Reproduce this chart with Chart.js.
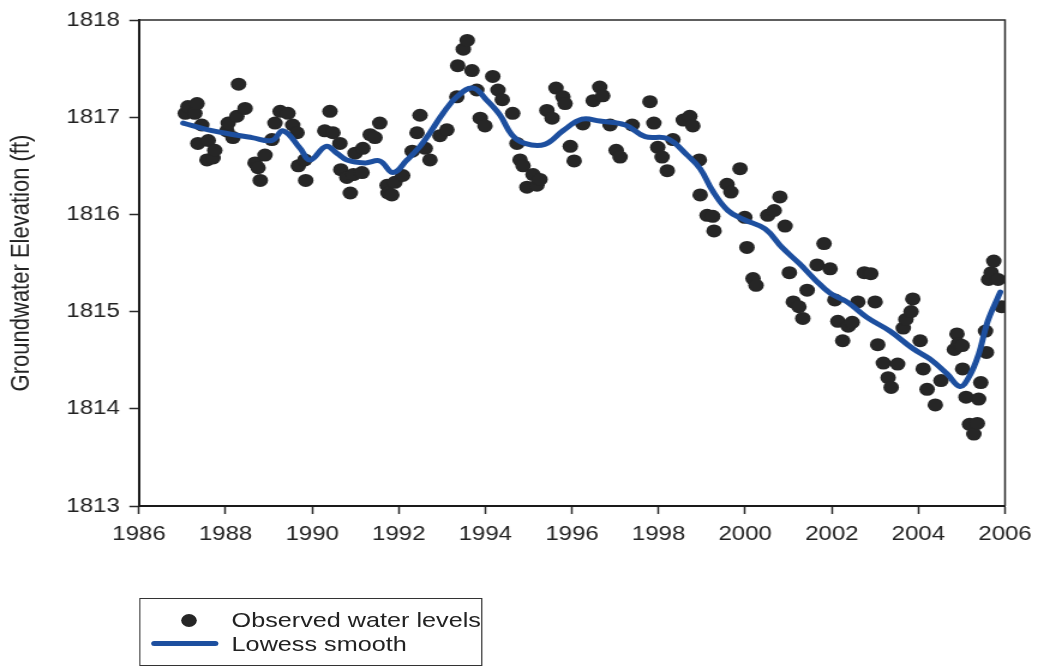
<!DOCTYPE html>
<html>
<head>
<meta charset="utf-8">
<script src="https://cdn.jsdelivr.net/npm/chart.js@4.4.0/dist/chart.umd.min.js"></script>
<style>
  html, body { margin: 0; padding: 0; background: #fff; overflow: hidden; }
  /* the figure is drawn on an 885px-wide stage and widened to 1062px */
  #stage { position: absolute; left: 0; top: 0; width: 885px; height: 667px;
           transform: scaleX(1.2); transform-origin: 0 0; }
  #chart { position: absolute; left: 0; top: 0; }
  #legend { position: absolute; left: 116px; top: 598px; width: 286px; height: 68px;
            border: 1.5px solid #333; box-sizing: border-box;
            font-family: "Liberation Sans", Arial, sans-serif; font-size: 21px; color: #222; }
  .row { position: absolute; left: 76px; line-height: 24px; white-space: nowrap; }
  .dot { position: absolute; left: 34px; top: 15px; width: 13px; height: 13px;
         border-radius: 50%; background: #262626; }
  .bar { position: absolute; left: 9px; top: 42px; width: 56px; height: 5px;
         border-radius: 3px; background: #1d4f9f; }
</style>
</head>
<body>
<div id="stage">
  <canvas id="chart" width="885" height="667"></canvas>
  <div id="legend">
    <div class="dot"></div>
    <div class="row" style="top:9px">Observed water levels</div>
    <div class="bar"></div>
    <div class="row" style="top:33px">Lowess smooth</div>
  </div>
</div>
<script>
// Observed groundwater levels (decimal year, elevation in ft)
const obsYears = [
  1987.07, 1987.13, 1987.29, 1987.34, 1987.36, 1987.45, 1987.57, 1987.60, 1987.71, 1987.75,
  1988.03, 1988.06, 1988.17, 1988.26, 1988.30, 1988.45, 1988.68, 1988.75, 1988.80, 1988.91,
  1989.07, 1989.14, 1989.26, 1989.44, 1989.55, 1989.65, 1989.68, 1989.83, 1989.85, 1990.29,
  1990.41, 1990.48, 1990.64, 1990.66, 1990.80, 1990.88, 1990.95, 1990.99, 1991.15, 1991.17,
  1991.34, 1991.45, 1991.56, 1991.73, 1991.75, 1991.84, 1991.91, 1992.09, 1992.31, 1992.42,
  1992.49, 1992.61, 1992.72, 1992.95, 1993.11, 1993.34, 1993.36, 1993.49, 1993.58, 1993.69,
  1993.80, 1993.88, 1993.99, 1994.17, 1994.29, 1994.39, 1994.63, 1994.73, 1994.80, 1994.87,
  1994.96, 1995.10, 1995.19, 1995.26, 1995.42, 1995.54, 1995.63, 1995.79, 1995.84, 1995.96,
  1996.05, 1996.25, 1996.49, 1996.64, 1996.71, 1996.88, 1997.02, 1997.11, 1997.39, 1997.80,
  1997.89, 1997.98, 1998.08, 1998.20, 1998.33, 1998.57, 1998.72, 1998.79, 1998.94, 1998.96,
  1999.12, 1999.25, 1999.28, 1999.58, 1999.67, 1999.88, 1999.99, 2000.04, 2000.18, 2000.25,
  2000.52, 2000.67, 2000.80, 2000.92, 2001.02, 2001.11, 2001.24, 2001.33, 2001.43, 2001.66,
  2001.82, 2001.96, 2002.07, 2002.14, 2002.25, 2002.38, 2002.47, 2002.60, 2002.75, 2002.90,
  2003.00, 2003.06, 2003.19, 2003.30, 2003.37, 2003.52, 2003.65, 2003.71, 2003.83, 2003.87,
  2004.04, 2004.11, 2004.20, 2004.39, 2004.52, 2004.83, 2004.89, 2004.92, 2005.01, 2005.02,
  2005.10, 2005.18, 2005.28, 2005.36, 2005.39, 2005.44, 2005.55, 2005.57, 2005.62, 2005.68,
  2005.74, 2005.84, 2005.92
];
const obsLevels = [
  1817.04, 1817.11, 1817.04, 1817.14, 1816.73, 1816.92, 1816.56, 1816.76, 1816.58, 1816.66,
  1816.86, 1816.94, 1816.79, 1817.01, 1817.34, 1817.09, 1816.53, 1816.48, 1816.35, 1816.61,
  1816.77, 1816.94, 1817.06, 1817.04, 1816.92, 1816.84, 1816.50, 1816.56, 1816.35, 1816.86,
  1817.06, 1816.84, 1816.73, 1816.46, 1816.38, 1816.22, 1816.41, 1816.63, 1816.43, 1816.68,
  1816.82, 1816.79, 1816.94, 1816.30, 1816.22, 1816.20, 1816.33, 1816.40, 1816.65, 1816.84,
  1817.02, 1816.68, 1816.56, 1816.81, 1816.87, 1817.21, 1817.53, 1817.70, 1817.79, 1817.48,
  1817.28, 1816.99, 1816.91, 1817.42, 1817.28, 1817.18, 1817.04, 1816.73, 1816.56, 1816.50,
  1816.28, 1816.41, 1816.30, 1816.36, 1817.07, 1816.99, 1817.30, 1817.21, 1817.14, 1816.70,
  1816.55, 1816.93, 1817.17, 1817.31, 1817.22, 1816.92, 1816.66, 1816.59, 1816.92, 1817.16,
  1816.94, 1816.69, 1816.59, 1816.45, 1816.77, 1816.97, 1817.01, 1816.91, 1816.56, 1816.20,
  1815.99, 1815.98, 1815.83, 1816.31, 1816.23, 1816.47, 1815.97, 1815.66, 1815.34, 1815.27,
  1815.99, 1816.04, 1816.18, 1815.88, 1815.40, 1815.10, 1815.05, 1814.93, 1815.22, 1815.48,
  1815.70, 1815.44, 1815.12, 1814.90, 1814.70, 1814.85, 1814.89, 1815.10, 1815.40, 1815.39,
  1815.10, 1814.66, 1814.47, 1814.32, 1814.22, 1814.46, 1814.83, 1814.92, 1815.00, 1815.13,
  1814.70, 1814.41, 1814.20, 1814.04, 1814.29, 1814.61, 1814.77, 1814.67, 1814.65, 1814.41,
  1814.12, 1813.84, 1813.74, 1813.85, 1814.10, 1814.27, 1814.80, 1814.58, 1815.33, 1815.40,
  1815.52, 1815.33, 1815.05
];

// Lowess smooth through the observations
const smoothYears = [
  1987.02, 1987.60, 1988.19, 1988.61, 1989.07, 1989.33, 1989.72, 1989.95, 1990.32, 1990.57,
  1990.80, 1991.22, 1991.56, 1991.87, 1992.19, 1992.49, 1992.72, 1993.02, 1993.34, 1993.71,
  1994.04, 1994.34, 1994.61, 1994.91, 1995.37, 1995.79, 1996.23, 1996.64, 1997.23, 1997.69,
  1998.20, 1998.66, 1998.96, 1999.25, 1999.60, 1999.95, 2000.46, 2000.85, 2001.26, 2001.61,
  2001.96, 2002.35, 2002.81, 2003.34, 2003.87, 2004.27, 2004.66, 2004.96, 2005.17, 2005.39,
  2005.60, 2005.89
];
const smoothLevels = [
  1816.94, 1816.87, 1816.82, 1816.79, 1816.76, 1816.86, 1816.68, 1816.56, 1816.70, 1816.63,
  1816.56, 1816.53, 1816.55, 1816.43, 1816.56, 1816.70, 1816.84, 1817.04, 1817.21, 1817.30,
  1817.17, 1817.02, 1816.82, 1816.73, 1816.72, 1816.86, 1816.98, 1816.96, 1816.92, 1816.80,
  1816.78, 1816.61, 1816.47, 1816.24, 1816.04, 1815.95, 1815.85, 1815.66, 1815.49, 1815.33,
  1815.19, 1815.10, 1814.94, 1814.80, 1814.62, 1814.51, 1814.36, 1814.23, 1814.33, 1814.56,
  1814.90, 1815.20
];

// Axis ranges
const yearMin = 1986, yearMax = 2006, yearStep = 2;
const elevMin = 1813, elevMax = 1818, elevStep = 1;

const observed = obsYears.map((x, i) => ({ x, y: obsLevels[i] }));
const smooth = smoothYears.map((x, i) => ({ x, y: smoothLevels[i] }));

// box line along the top and right of the plotting area
const frame = {
  id: 'frame',
  afterDraw(chart) {
    const { ctx, chartArea: a } = chart;
    ctx.save();
    ctx.strokeStyle = '#2a2a2a';
    ctx.lineWidth = 1.5;
    ctx.beginPath();
    ctx.moveTo(a.left, a.top);
    ctx.lineTo(a.right, a.top);
    ctx.lineTo(a.right, a.bottom);
    ctx.stroke();
    ctx.restore();
  }
};

const font = "'Liberation Sans', Arial, sans-serif";

new Chart(document.getElementById('chart'), {
  type: 'scatter',
  data: {
    datasets: [
      {
        label: 'Lowess smooth',
        type: 'line',
        data: smooth,
        borderColor: '#1d4f9f',
        borderWidth: 5,
        borderCapStyle: 'round',
        borderJoinStyle: 'round',
        pointRadius: 0,
        tension: 0.4,
        fill: false,
        order: 0
      },
      {
        label: 'Observed water levels',
        data: observed,
        backgroundColor: '#262626',
        borderWidth: 0,
        pointRadius: 6.5,
        pointHoverRadius: 6.5,
        order: 1
      }
    ]
  },
  options: {
    responsive: false,
    animation: false,
    layout: { padding: { left: 0, right: 47.5, top: 16, bottom: 121 } },
    plugins: {
      legend: { display: false },
      tooltip: { enabled: false }
    },
    scales: {
      x: {
        type: 'linear',
        min: yearMin,
        max: yearMax,
        afterFit(s) { s.height = 40; },
        grid: { display: true, drawOnChartArea: false, drawTicks: true, tickLength: 8,
                tickColor: '#2a2a2a', tickWidth: 1.5 },
        border: { display: true, color: '#1a1a1a', width: 2 },
        ticks: {
          stepSize: yearStep,
          padding: 8,
          color: '#222',
          font: { family: font, size: 20 },
          callback: v => String(v)
        }
      },
      y: {
        min: elevMin,
        max: elevMax,
        afterFit(s) { s.width = 115.8; },
        grid: { display: true, drawOnChartArea: false, drawTicks: true, tickLength: 8,
                tickColor: '#2a2a2a', tickWidth: 1.5 },
        border: { display: true, color: '#1a1a1a', width: 2 },
        ticks: {
          stepSize: elevStep,
          padding: 8,
          color: '#222',
          font: { family: font, size: 20 },
          callback: v => String(v)
        },
        title: {
          display: true,
          text: 'Groundwater Elevation (ft)',
          color: '#222',
          font: { family: font, size: 22 },
          padding: { top: 5, bottom: 4 }
        }
      }
    }
  },
  plugins: [frame]
});
</script>
</body>
</html>
